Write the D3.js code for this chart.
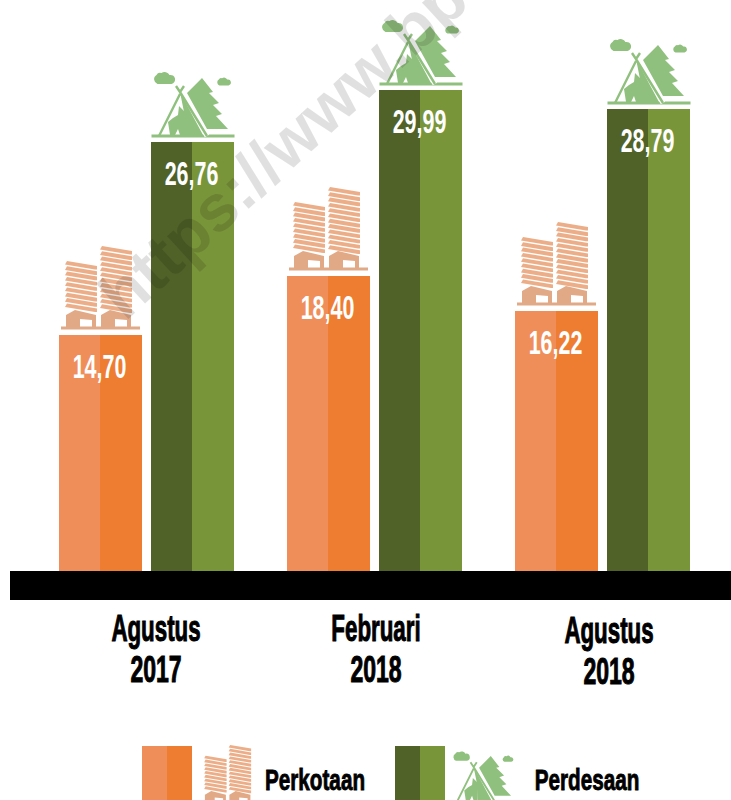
<!DOCTYPE html>
<html><head><meta charset="utf-8">
<script src="https://cdn.jsdelivr.net/npm/d3@7/dist/d3.min.js"></script>
<style>html,body{margin:0;padding:0;background:#fff;overflow:hidden}svg{display:block}</style>
</head><body><div id="c"></div>
<script>
const periods = ["Agustus 2017", "Februari 2018", "Agustus 2018"];
const seriesNames = ["Perkotaan", "Perdesaan"];
const perkotaan = [14.70, 18.40, 16.22];
const perdesaan = [26.76, 29.99, 28.79];
const watermark = "https://www.bps.go.id";

const W = 731, H = 800, base = 571;
const FONT = "'Liberation Sans',sans-serif";
const svg = d3.select("#c").append("svg").attr("width", W).attr("height", H);
const y = d3.scaleLinear().domain([0, 30]).range([base, base - 30 * 16.03]);
const x0 = d3.scalePoint().domain(periods).range([59, 515]);
const x1 = d3.scaleOrdinal().domain(seriesNames).range([0, 92]);
const bw = 83, split = 41;
const colors = {Perkotaan: ["#f08e5a", "#ee7d31"], Perdesaan: ["#506228", "#799539"]};

function cond(g, txt, cx, by, size, sx, fill, sw) {
  g.append("text").attr("transform", `translate(${cx},${by}) scale(${sx},1)`)
    .attr("text-anchor", "middle").attr("font-family", FONT).attr("font-weight", 700)
    .attr("font-size", size).attr("fill", fill)
    .attr("stroke", sw ? fill : "none").attr("stroke-width", sw || 0).text(txt);
}
function building(g) {
  const c = "#e2a987";
  g.append("rect").attr("x", 2).attr("y", -1.5).attr("width", 79).attr("height", 3).attr("fill", c);
  [[6, 32, 67], [41, 32, 82]].forEach(([tx, tw, th]) => {
    const n = Math.floor((th - 16) / 5.3);
    d3.range(n).forEach(i => {
      const yy = -th + i * 5.3;
      g.append("path").attr("d", `M${tx + 2} ${yy}L${tx + tw} ${yy + 5}V${yy + 8.6}L${tx + tw - 2} ${yy + 8.6}L${tx} ${yy + 3.6}Z`).attr("fill", "#ecae88");
    });
    g.append("path").attr("fill", c).attr("d",
      `M${tx + 1} 0V-13L${tx + 10} -18L${tx + tw - 1} -13V0H${tx + tw - 5}V-8L${tx + 15} -9V0Z`);
  });
}
function tent(g) {
  const c = "#90c07e";
  g.append("rect").attr("x", 0.5).attr("y", -7.5).attr("width", 83).attr("height", 3).attr("fill", c);
  // tree
  g.append("path").attr("fill", c).attr("d",
    "M36 -49L51 -64L62 -50L58 -49L68 -39L62 -37L71 -28L65 -26L77 -13L56 -13Z");
  // gap between tree and tent
  g.append("path").attr("fill", "none").attr("stroke", "#fff").attr("stroke-width", 5).attr("d", "M29 -51L56 -6");
  // tent right panel
  g.append("path").attr("fill", c).attr("d", "M29 -50L52 -7H34L33 -30Z");
  // tent outline
  g.append("path").attr("fill", "none").attr("stroke", c).attr("stroke-width", 2.4).attr("d",
    "M8 -6L29 -48M25 -56L29 -50L33 -56M29 -50L56 -6");
  // figure
  g.append("path").attr("fill", c).attr("d",
    "M28 -36L34 -30L34 -7H29L27 -13L24 -7H19L17 -20L22 -24L27 -27Z");
  const cloud = (cx, cy, s) => g.append("path").attr("fill", c).attr("transform", `translate(${cx},${cy}) scale(${s})`)
    .attr("d", "M-7 6A5 5 0 0 1 -8 -3A4 4 0 0 1 -3 -5A5.5 5.5 0 0 1 5 -3A4.5 4.5 0 0 1 7 6Z");
  cloud(13.5, -64, 1);
  cloud(73, -60.5, .65);
}

// bars
periods.forEach((p, i) => {
  [[seriesNames[0], perkotaan[i]], [seriesNames[1], perdesaan[i]]].forEach(([s, v]) => {
    const xx = x0(p) + x1(s), top = Math.round(y(v)), g = svg.append("g").attr("shape-rendering", "crispEdges");
    g.append("rect").attr("x", xx).attr("y", top).attr("width", split).attr("height", base - top).attr("fill", colors[s][0]);
    g.append("rect").attr("x", xx + split).attr("y", top).attr("width", bw - split).attr("height", base - top).attr("fill", colors[s][1]);
    const ic = svg.append("g").attr("transform", `translate(${xx},${top - (s === "Perkotaan" ? 7 : 0)})`);
    (s === "Perkotaan" ? building : tent)(ic);
    cond(svg, d3.format(".2f")(v).replace(".", ","), xx + bw / 2 - 1, top + 43, 33, .65, "#fff");
  });
});

// baseline band
svg.append("rect").attr("x", 10).attr("y", base).attr("width", W - 10).attr("height", 29).attr("fill", "#000");

// category labels
const labX = [156, 376, 609], labDy = [0, 0, 2];
periods.forEach((p, i) => {
  const [a, b] = p.split(" ");
  cond(svg, a, labX[i], 641 + labDy[i], 36, .62, "#000", 1);
  cond(svg, b, labX[i], 682 + labDy[i], 36, .64, "#000", 1);
});

// legend
const legX = {Perkotaan: 142, Perdesaan: 395};
seriesNames.forEach(s => {
  const lx = legX[s];
  svg.append("g").attr("shape-rendering", "crispEdges").call(l => {
    l.append("rect").attr("x", lx).attr("y", 746).attr("width", 25).attr("height", 54).attr("fill", colors[s][0]);
    l.append("rect").attr("x", lx + 25).attr("y", 746).attr("width", 25).attr("height", 54).attr("fill", colors[s][1]);
  });
  if (s === "Perkotaan") {
    building(svg.append("g").attr("transform", `translate(${lx + 58},804) scale(.7,.72)`));
    cond(svg, s, 315, 790, 30, .69, "#000", .9);
  } else {
    tent(svg.append("g").attr("transform", `translate(${lx + 56},806) scale(.78)`));
    cond(svg, s, 587, 790, 30, .69, "#000", .9);
  }
});

// watermark
svg.append("text").attr("transform", "translate(125,322) rotate(-42.5)")
  .attr("font-family", FONT).attr("font-weight", 700).attr("font-size", 66)
  .attr("fill", "#000").attr("fill-opacity", .12).text(watermark);
</script></body></html>
